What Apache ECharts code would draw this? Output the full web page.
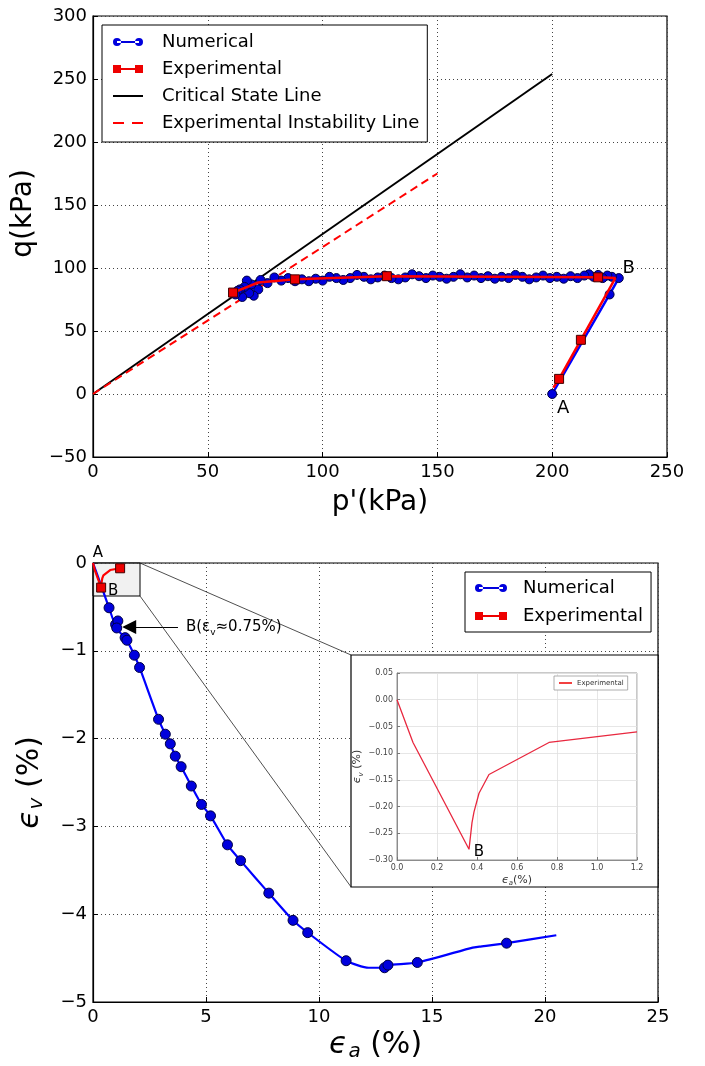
<!DOCTYPE html>
<html><head><meta charset="utf-8">
<script src="https://cdn.jsdelivr.net/npm/echarts@6/dist/echarts.min.js"></script>
<style>html,body{margin:0;padding:0;background:#fff}#c{width:705px;height:1066px}</style>
</head><body><div id="c"></div><script>
// ---------- DATA ----------
const topXTicks = [0, 50, 100, 150, 200, 250];
const topYTicks = [-50, 0, 50, 100, 150, 200, 250, 300];
const topNumerical = [
  [200,0],[225,79],[229,92],
  [226,93],[224,94],[222,92],[220,94.5],[218,93],[216,95],[214,94],[211,92],[208,93.5],[205,91.5],
  [202,93],[199,92],[196,94],[193,92.5],[190,91],[187,93],[184,94.5],[181,92],[178,93],[175,91.5],
  [172,93.5],[169,92],[166,94],[163,92.5],[160,95],[157,93],[154,91.5],[151,93],[148,94],[145,92],
  [142,93.5],[139,95],[136,92.5],[133,91],[130,92],[127,94],[124,92.5],[121,91],[118,93],[115,94.5],
  [112,92],[109,90.5],[106,92],[103,93],[100,90],[97,91.5],[94,89.5],[91,91],[88,89.5],[85,92],
  [82,90],[79,92.5],[76,88],[73,90.5],[72,83],[70,78],[69,87],[68,80],[67,90],[66,85],[65,77],
  [64,83],[63,82],[62,79]
];
const topExperimental = [[200.5,5],[203,12],[212.5,43],[227.5,92],[220,92.6],[128,93.5],[88,91],[72,88.5],[61,80.5]];
const topExperimentalMarked = [1,2,4,5,6,8];
const criticalStateLine = [[0,0],[200,254]];
const instabilityLine = [[0,0],[150,175]];

const botXTicks = [0, 5, 10, 15, 20, 25];
const botYTicks = [-5, -4, -3, -2, -1, 0];
const botNumerical = [
  [0,0],[0.35,-0.25],[0.71,-0.51],[1.0,-0.7],[1.1,-0.66],[1.05,-0.74],[1.42,-0.85],[1.5,-0.88],
  [1.83,-1.05],[2.06,-1.19],[2.9,-1.78],[3.2,-1.95],[3.42,-2.06],[3.64,-2.2],[3.9,-2.32],[4.35,-2.54],
  [4.8,-2.75],[5.2,-2.88],[5.95,-3.21],[6.53,-3.39],[7.78,-3.76],[8.85,-4.07],[9.5,-4.21],[11.2,-4.53],
  [12.2,-4.61],[12.9,-4.61],[13.05,-4.58],[14.35,-4.55],[16.8,-4.38],[17.1,-4.37],[18.3,-4.33],[20.5,-4.24]
];
const botNumericalUnmarked = [0,1,24,28,29,31];
const experimentalStrain = [[0,0],[0.08,-0.08],[0.36,-0.28],[0.375,-0.23],[0.385,-0.21],[0.41,-0.175],[0.46,-0.14],[0.76,-0.08],[1.2,-0.06]];
const botExperimentalMarked = [2,8];
const insetXTicks = [0, 0.2, 0.4, 0.6, 0.8, 1.0, 1.2];
const insetYTicks = [-0.30, -0.25, -0.20, -0.15, -0.10, -0.05, 0.00, 0.05];
// annotation geometry (data coordinates)
const zoomBox = [[0,0],[2.08,-0.376]];
const connectors = [[[2.08,0],[11.42,-1.048]],[[2.08,-0.376],[11.42,-3.69]]];
const arrowB = [[3.76,-0.73],[1.6,-0.73]];

// ---------- STYLE ----------
const FONT = 'DejaVu Sans';
const BLUE = '#0000ff', RED = '#ff0000';
const minus = s => String(s).replace('-', '\u2212');
const fix = (v, d) => minus((Math.abs(v) < 1e-9 ? 0 : v).toFixed(d));

function circlesIcon(len, total){
  return 'path://M4,3H'+(len-4)+'V5H4Z M0,4a4,4 0 1,0 8,0a4,4 0 1,0 -8,0Z M'+(len-8)+',4a4,4 0 1,0 8,0a4,4 0 1,0 -8,0Z M'+(total-0.01)+',4h0.01v0.01h-0.01Z';
}
function squaresIcon(len, total){
  return 'path://M4,3H'+(len-4)+'V5H4Z M0,0H8V8H0Z M'+(len-8)+',0H'+len+'V8H'+(len-8)+'Z M'+(total-0.01)+',4h0.01v0.01h-0.01Z';
}
function lineIcon(len, total){ return 'path://M0,3H'+len+'V5H0Z M'+(total-0.01)+',4h0.01v0.01h-0.01Z'; }
function dashIcon(len, total){ return 'path://M0,3H11V5H0Z M'+(len-11)+',3H'+len+'V5H'+(len-11)+'Z M'+(total-0.01)+',4h0.01v0.01h-0.01Z'; }

function valueAxis(ticks, gridIndex, extra){
  return Object.assign({
    type:'value', gridIndex:gridIndex,
    min: ticks[0], max: ticks[ticks.length-1], interval: ticks[1]-ticks[0],
    axisLine:{show:true, onZero:false, lineStyle:{color:'#000', width:1.2}},
    axisTick:{show:true, inside:true, length:5, lineStyle:{color:'#000'}},
    axisLabel:{color:'#000', fontSize:18, fontFamily:FONT, margin:6, formatter:v=>minus(v)},
    splitLine:{show:true, lineStyle:{color:'#444', type:[1,3], width:1}}
  }, extra||{});
}
const insetAxisCommon = {
  axisLine:{show:true, onZero:false, lineStyle:{color:'#777', width:0.8}},
  axisTick:{show:true, inside:true, length:3, lineStyle:{color:'#777'}},
  splitLine:{show:true, lineStyle:{color:'#e0e0e0', width:0.8}},
  z:6
};

const chart = echarts.init(document.getElementById('c'), null, {renderer:'canvas'});
const option = {
  animation:false,
  backgroundColor:'#fff',
  textStyle:{fontFamily:FONT},
  grid:[
    {left:93, top:16, width:574, height:441, show:true, borderColor:'#000', borderWidth:1.2},
    {left:93, top:563, width:565, height:439, show:true, borderColor:'#000', borderWidth:1.2},
    {left:397, top:673, width:240, height:187, show:true, borderColor:'#777', borderWidth:0.8, backgroundColor:'#fff', z:6}
  ],
  xAxis:[
    valueAxis(topXTicks, 0, {name:"p'(kPa)", nameLocation:'middle', nameGap:32,
      nameTextStyle:{fontSize:28, fontFamily:FONT, color:'#000'}}),
    valueAxis(botXTicks, 1, {name:'{e|\u03f5}{s|a}{p| (%)}', nameLocation:'middle', nameGap:26,
      nameTextStyle:{rich:{
        e:{fontSize:30, fontFamily:FONT, fontStyle:'italic', color:'#000', lineHeight:34},
        s:{fontSize:20, fontFamily:FONT, fontStyle:'italic', color:'#000', lineHeight:34, verticalAlign:'bottom', padding:[0,0,0,1]},
        p:{fontSize:30, fontFamily:FONT, color:'#000', lineHeight:34}}}}),
    Object.assign(valueAxis(insetXTicks, 2, {name:'{e|\u03f5}{s|a}{p|(%)}', nameLocation:'middle', nameGap:13,
      nameTextStyle:{rich:{
        e:{fontSize:11, fontFamily:FONT, fontStyle:'italic', color:'#333', lineHeight:14},
        s:{fontSize:7, fontFamily:FONT, fontStyle:'italic', color:'#333', lineHeight:14, verticalAlign:'bottom'},
        p:{fontSize:11, fontFamily:FONT, color:'#333', lineHeight:14}}}}), insetAxisCommon,
      {axisLabel:{color:'#444', fontSize:8, fontFamily:FONT, margin:4, formatter:v=>fix(v,1)}})
  ],
  yAxis:[
    valueAxis(topYTicks, 0, {name:'q(kPa)', nameLocation:'middle', nameGap:46,
      nameTextStyle:{fontSize:28, fontFamily:FONT, color:'#000', padding:[0,0,0,46]}}),
    valueAxis(botYTicks, 1, {name:'{e|\u03f5}{s|v}{p| (%)}', nameLocation:'middle', nameGap:46,
      nameTextStyle:{rich:{
        e:{fontSize:30, fontFamily:FONT, fontStyle:'italic', color:'#000', lineHeight:34},
        s:{fontSize:20, fontFamily:FONT, fontStyle:'italic', color:'#000', lineHeight:34, verticalAlign:'bottom', padding:[0,0,0,1]},
        p:{fontSize:30, fontFamily:FONT, color:'#000', lineHeight:34}}}}),
    Object.assign(valueAxis(insetYTicks, 2, {name:'{e|\u03f5}{s|v}{p| (%)}', nameLocation:'middle', nameGap:27,
      nameTextStyle:{rich:{
        e:{fontSize:11, fontFamily:FONT, fontStyle:'italic', color:'#333', lineHeight:14},
        s:{fontSize:7, fontFamily:FONT, fontStyle:'italic', color:'#333', lineHeight:14, verticalAlign:'bottom'},
        p:{fontSize:11, fontFamily:FONT, color:'#333', lineHeight:14}}}}), insetAxisCommon,
      {axisLabel:{color:'#444', fontSize:8, fontFamily:FONT, margin:4, formatter:v=>fix(v,2)}})
  ],
  legend:[
    {left:102, top:25, orient:'vertical', itemWidth:44, itemHeight:8, itemGap:7,
     padding:[7,8,9,11], backgroundColor:'#fff', borderColor:'#000', borderWidth:1, borderRadius:0,
     itemStyle:{borderWidth:0},
     textStyle:{fontSize:18, fontFamily:FONT, color:'#000', lineHeight:20},
     data:[
       {name:'Numerical', icon:circlesIcon(30,44)},
       {name:'Experimental', icon:squaresIcon(30,44)},
       {name:'Critical State Line', icon:lineIcon(30,44)},
       {name:'Experimental Instability Line', icon:dashIcon(30,44)}
     ]},
    {left:465, top:572, orient:'vertical', itemWidth:43, itemHeight:8, itemGap:8,
     padding:[6,8,6,10], backgroundColor:'#fff', borderColor:'#000', borderWidth:1, borderRadius:0,
     itemStyle:{borderWidth:0},
     textStyle:{fontSize:18, fontFamily:FONT, color:'#000', lineHeight:20},
     data:[
       {name:'Numerical', icon:circlesIcon(32,43)},
       {name:'Experimental', icon:squaresIcon(32,43)}
     ]},
    {left:554, top:676, orient:'vertical', itemWidth:13, itemHeight:3, z:8,
     padding:[3,4,3,5], backgroundColor:'#fff', borderColor:'#999', borderWidth:0.8, borderRadius:0,
     itemStyle:{borderWidth:0},
     textStyle:{fontSize:7, fontFamily:FONT, color:'#333', lineHeight:8},
     data:[{name:'Experimental', icon:'path://M0,0H13V1.5H0Z'}]}
  ],
  graphic:{z:5, elements:[
    {type:'rect', z:5, shape:{x:351, y:655, width:307, height:232},
     style:{fill:'#fff', stroke:'#000', lineWidth:1.2}}
  ]},
  series:[
    {name:'Critical State Line', type:'line', xAxisIndex:0, yAxisIndex:0, data:criticalStateLine,
     showSymbol:false, symbol:'none', z:2, lineStyle:{color:'#000', width:2}, itemStyle:{color:'#000'}},
    {name:'Experimental Instability Line', type:'line', xAxisIndex:0, yAxisIndex:0, data:instabilityLine,
     showSymbol:false, symbol:'none', z:2, lineStyle:{color:RED, width:2, type:[8,5]}, itemStyle:{color:RED}},
    {name:'Numerical', type:'line', xAxisIndex:0, yAxisIndex:0, data:topNumerical, z:3,
     symbol:'circle', symbolSize:9, showAllSymbol:true,
     lineStyle:{color:BLUE, width:2.5}, itemStyle:{color:'#0000dd', borderColor:'#000044', borderWidth:1},
     markPoint:{symbol:'circle', symbolSize:1, itemStyle:{color:'rgba(0,0,0,0)'},
       label:{show:true, color:'#000', fontSize:18, fontFamily:FONT},
       data:[
         {coord:[200,0], label:{formatter:'A', offset:[11,14]}},
         {coord:[229,92], label:{formatter:'B', offset:[10,-10]}}
       ]}},
    {name:'Experimental', type:'line', xAxisIndex:0, yAxisIndex:0, data:topExperimental, z:4,
     symbol:'rect', showAllSymbol:true,
     symbolSize:(v, p)=> topExperimentalMarked.indexOf(p.dataIndex) >= 0 ? 9 : 0,
     lineStyle:{color:RED, width:2.5}, itemStyle:{color:'#ee0000', borderColor:'#440000', borderWidth:1}},

    {name:'Numerical', type:'line', xAxisIndex:1, yAxisIndex:1, data:botNumerical, z:3,
     symbol:'circle', showAllSymbol:true, smooth:0.2,
     symbolSize:(v, p)=> botNumericalUnmarked.indexOf(p.dataIndex) >= 0 ? 0 : 10,
     lineStyle:{color:BLUE, width:2.2}, itemStyle:{color:'#0000dd', borderColor:'#000044', borderWidth:1},
     markArea:{silent:true, itemStyle:{color:'rgba(215,215,215,0.35)', borderColor:'#000', borderWidth:1},
       data:[[{coord:zoomBox[0]},{coord:zoomBox[1]}]]},
     markLine:{silent:true, symbol:['none','triangle'], symbolSize:14, animation:false,
       lineStyle:{color:'#000', width:1, type:'solid'},
       label:{show:true, position:'start', distance:8,
         formatter:'{t|B(\u03b5}{s|v}{t|\u22480.75%)}',
         rich:{t:{fontSize:15, fontFamily:FONT, color:'#000', lineHeight:20},
               s:{fontSize:9, fontFamily:FONT, color:'#000', lineHeight:20, verticalAlign:'bottom'}}},
       data:[[{coord:arrowB[0]},{coord:arrowB[1]}]]}},
    {name:'Experimental', type:'line', xAxisIndex:1, yAxisIndex:1, data:experimentalStrain, z:4,
     symbol:'rect', showAllSymbol:true,
     symbolSize:(v, p)=> botExperimentalMarked.indexOf(p.dataIndex) >= 0 ? 9 : 0,
     lineStyle:{color:RED, width:2.2}, itemStyle:{color:'#ee0000', borderColor:'#440000', borderWidth:1},
     markLine:{silent:true, symbol:'none', animation:false,
       lineStyle:{color:'#222', width:0.8, type:'solid'}, label:{show:false},
       data:connectors.map(c=>[{coord:c[0]},{coord:c[1]}])},
     markPoint:{symbol:'circle', symbolSize:1, itemStyle:{color:'rgba(0,0,0,0)'},
       label:{show:true, color:'#000', fontSize:15, fontFamily:FONT},
       data:[
         {coord:[0,0], label:{formatter:'A', offset:[5,-10]}},
         {coord:[0.36,-0.28], label:{formatter:'B', offset:[12,4]}}
       ]}},
    {name:'Experimental', type:'line', xAxisIndex:2, yAxisIndex:2, data:experimentalStrain, z:7,
     symbol:'none', showSymbol:false,
     lineStyle:{color:'#e8283f', width:1.3}, itemStyle:{color:'#e8283f'},
     markPoint:{z:12, symbol:'circle', symbolSize:1, itemStyle:{color:'rgba(0,0,0,0)'},
       label:{show:true, color:'#000', fontSize:15, fontFamily:FONT},
       data:[{coord:[0.36,-0.28], label:{formatter:'B', offset:[10,3]}}]}}
  ]
};
chart.setOption(option);
</script></body></html>
